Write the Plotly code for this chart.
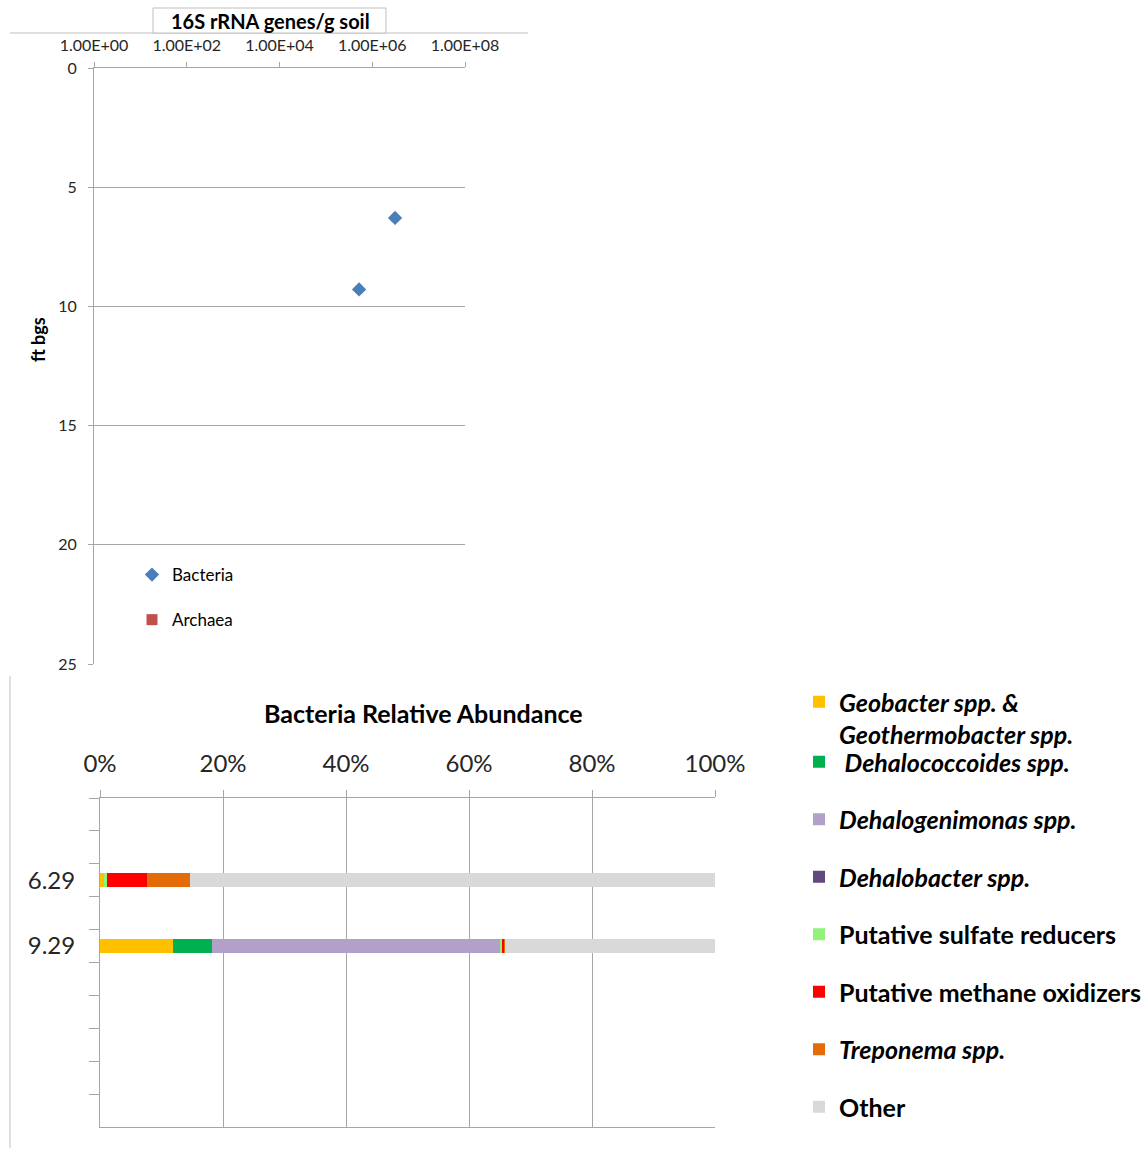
import plotly.graph_objects as go

W, H = 1147, 1149
def px(x): return x / W
def py(y): return 1 - y / H

# ---- Top chart data ----
depth_ft = [6.29, 9.29]
bacteria_genes = [3.1e6, 5.2e5]
archaea_genes = [None, None]
x_tickvals = [1e0, 1e2, 1e4, 1e6, 1e8]
x_ticktext = ["1.00E+00", "1.00E+02", "1.00E+04", "1.00E+06", "1.00E+08"]

# ---- Bottom chart data ----
sample_labels = ["6.29", "9.29"]
category_slots = [" ", "  ", "6.29", "   ", "9.29", "    ", "     ", "      ", "       ", "        "]
groups = [
    "<i>Geobacter spp. &amp;</i><br><i>Geothermobacter spp.</i>",
    "<i> Dehalococcoides spp.</i>",
    "<i>Dehalogenimonas spp.</i>",
    "<i>Dehalobacter spp.</i>",
    "Putative sulfate reducers",
    "Putative methane oxidizers",
    "<i>Treponema spp.</i>",
    "Other",
]
colors = ["#ffc000", "#00b050", "#b1a0c7", "#604a7b", "#92f27a", "#ff0000", "#e36c09", "#d9d9d9"]
abund_629 = [0.6, 0.0, 0.0, 0.0, 0.6, 6.5, 6.9, 85.4]
abund_929 = [11.8, 6.4, 46.8, 0.0, 0.5, 0.3, 0.1, 34.1]

FONT = "Lato"
fig = go.Figure()

fig.add_trace(go.Scatter(
    x=bacteria_genes, y=depth_ft, mode="markers", name="Bacteria",
    marker=dict(symbol="diamond", size=11, color="#4a7ebb"),
    xaxis="x", yaxis="y", legend="legend2", legendgroup="b"))
fig.add_trace(go.Scatter(
    x=archaea_genes, y=depth_ft, mode="markers", name="Archaea",
    marker=dict(symbol="square", size=11, color="#c0504d"),
    xaxis="x", yaxis="y", legend="legend2", legendgroup="a"))

for i, g in enumerate(groups):
    fig.add_trace(go.Bar(
        y=sample_labels, x=[abund_629[i], abund_929[i]], name=g, orientation="h",
        marker=dict(color=colors[i], line=dict(width=0)), width=0.43,
        xaxis="x2", yaxis="y2", legend="legend3" if i == 0 else "legend",
        legendgroup=f"g{i}"))

grid = "#a6a6a6"
legfont = dict(size=25, color="#000000", family=FONT, weight="bold")
fig.update_layout(
    width=W, height=H, margin=dict(l=0, r=0, t=0, b=0, autoexpand=False),
    paper_bgcolor="white", plot_bgcolor="white",
    font=dict(family=FONT, color="#262626"),
    barmode="stack",
    xaxis=dict(domain=[px(94), px(465)], type="log", range=[0, 8], side="top",
               anchor="y", tickvals=x_tickvals, ticktext=x_ticktext,
               ticks="outside", ticklen=5, tickcolor=grid, showline=True, linecolor=grid,
               showgrid=False, zeroline=False, tickfont=dict(size=16, color="#262626"),
               ticklabelstandoff=5, automargin=False),
    yaxis=dict(domain=[py(664), py(68)], range=[25, 0], dtick=5, anchor="x",
               ticks="outside", ticklen=5, tickcolor=grid, showline=True, linecolor=grid,
               showgrid=True, gridcolor=grid, zeroline=False,
               tickfont=dict(size=16, color="#262626"), ticklabelstandoff=8,
               automargin=False),
    xaxis2=dict(domain=[px(100), px(715)], range=[0, 100], side="top", anchor="y2",
                dtick=20, ticksuffix="%", ticks="outside", ticklen=7, tickcolor=grid,
                showline=True, linecolor=grid, mirror=True, showgrid=True, gridcolor=grid,
                zeroline=False, tickfont=dict(size=24, color="#262626"),
                ticklabelstandoff=8, automargin=False),
    yaxis2=dict(domain=[py(1127), py(798)], type="category", categoryorder="array",
                categoryarray=category_slots, range=[9.5, -0.5], anchor="x2",
                tickson="boundaries", ticks="outside", ticklen=10, tickcolor=grid,
                showline=True, linecolor=grid, showgrid=False, automargin=False,
                ticklabelstandoff=19, tickfont=dict(size=24, color="#262626")),
    legend3=dict(x=px(799), y=py(679), xanchor="left", yanchor="top", font=legfont,
                 valign="top", bgcolor="rgba(0,0,0,0)"),
    legend=dict(x=px(799), y=py(739), xanchor="left", yanchor="top", font=legfont,
                traceorder="grouped", tracegroupgap=22, valign="top",
                bgcolor="rgba(0,0,0,0)"),
    legend2=dict(x=px(132), y=py(557), xanchor="left", yanchor="top",
                 font=dict(size=17, color="#000000"), traceorder="grouped",
                 tracegroupgap=20, bgcolor="rgba(0,0,0,0)"),
    showlegend=True,
)

# Title box for top chart, axis title and page borders
fig.add_shape(type="line", xref="paper", yref="paper", x0=px(10), x1=px(528), y0=py(33), y1=py(33),
              line=dict(color="#bfbfbf", width=1))
fig.add_shape(type="rect", xref="paper", yref="paper", x0=px(153), x1=px(386), y0=py(33), y1=py(8),
              line=dict(color="#bfbfbf", width=1), fillcolor="white")
fig.add_shape(type="line", xref="paper", yref="paper", x0=px(10), x1=px(10), y0=py(676), y1=py(1148),
              line=dict(color="#bfbfbf", width=1))
fig.add_annotation(text="<b>16S rRNA genes/g soil</b>", xref="paper", yref="paper",
                   x=px(270), y=py(21), xanchor="center", yanchor="middle", showarrow=False,
                   font=dict(size=20, color="#000000"))
fig.add_annotation(text="<b>ft bgs</b>", xref="paper", yref="paper", textangle=-90,
                   x=px(38), y=py(340), xanchor="center", yanchor="middle", showarrow=False,
                   font=dict(size=18, color="#000000"))
fig.add_annotation(text="<b>Bacteria Relative Abundance</b>", xref="paper", yref="paper",
                   x=px(423), y=py(713), xanchor="center", yanchor="middle", showarrow=False,
                   font=dict(size=25, color="#000000"))

fig.write_html("out.html", config={"displayModeBar": False},
               post_script="document.body.style.margin='0';")
